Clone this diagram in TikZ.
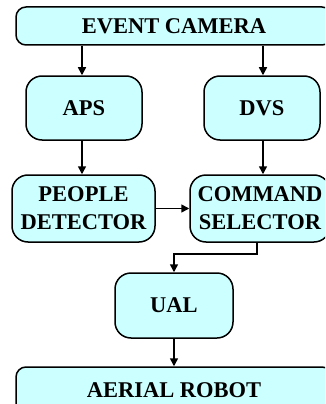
\documentclass[tikz,border=0pt]{standalone}
\usepackage{fontspec}
\setmainfont{Liberation Serif}
\usetikzlibrary{arrows.meta}
\definecolor{boxcyan}{HTML}{CCFFFF}
\tikzset{
  block/.style={draw, line width=1.5pt, fill=boxcyan, rounded corners=16pt,
    align=center, inner sep=0pt, font=\fontsize{22.5}{28}\selectfont\bfseries},
  wideblock/.style={block, rounded corners=10pt},
  flow/.style={-{Triangle[length=8pt,width=8pt]}, line width=1.5pt}
}
\begin{document}
\begin{tikzpicture}[x=1pt,y=-1pt]
    \useasboundingbox (0,0) rectangle (325,404);
    \clip (0,0) rectangle (325,404);
    \node [wideblock, minimum width=316pt, minimum height=38pt] (camera) at (174,26) {EVENT CAMERA};
    \node [block, minimum width=116pt, minimum height=64pt] (aps) at (84,108) {APS};
    \node [block, minimum width=116pt, minimum height=64pt] (dvs) at (262,108) {DVS};
    \node [block, minimum width=143pt, minimum height=67pt] (people) at (83.5,208.5) {PEOPLE\\DETECTOR};
    \node [block, minimum width=140pt, minimum height=67pt] (command) at (260,208.5) {COMMAND\\SELECTOR};
    \node [block, minimum width=118pt, minimum height=65pt] (ual) at (174,305.5) {UAL};
    \node [wideblock, minimum width=316pt, minimum height=46pt] (robot) at (174,390) {AERIAL ROBOT};
    \draw [flow] (camera.south -| 82,0) -- (aps.north -| 82,0);
    \draw [flow] (camera.south -| 263,0) -- (dvs.north -| 263,0);
    \draw [flow] (aps.south -| 82,0) -- (people.north -| 82,0);
    \draw [flow] (dvs.south -| 263,0) -- (command.north -| 263,0);
    \draw [flow] (people.east) -- (command.west);
    \draw [flow] (command.south -| 257,0) |- (174,254) -- (ual.north);
    \draw [flow] (ual.south) -- (robot.north);
\end{tikzpicture}
\end{document}
